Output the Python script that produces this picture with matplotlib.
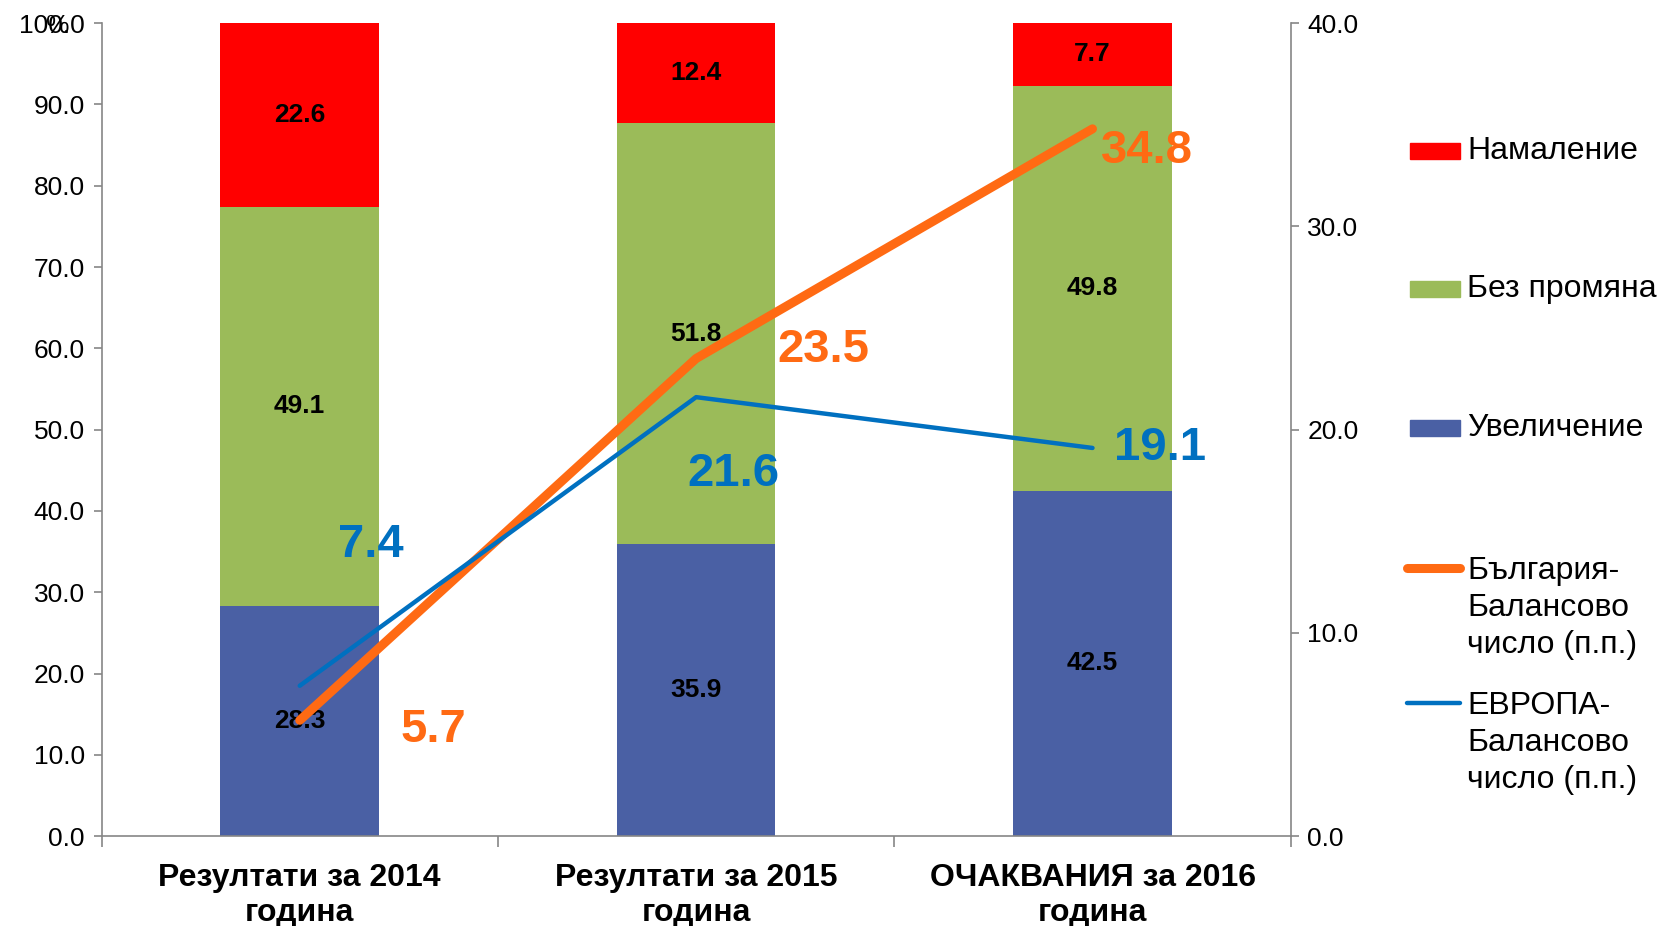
import matplotlib
matplotlib.use("Agg")
import matplotlib.pyplot as plt
import numpy as np
from matplotlib.patches import Rectangle
from matplotlib.lines import Line2D

categories = ["Резултати за 2014\nгодина", "Резултати за 2015\nгодина", "ОЧАКВАНИЯ за 2016\nгодина"]
increase = [28.3, 35.9, 42.5]
nochange = [49.1, 51.8, 49.8]
decrease = [22.6, 12.4, 7.7]
bulgaria = [5.7, 23.5, 34.8]
europe = [7.4, 21.6, 19.1]
left_ticks = [0, 10, 20, 30, 40, 50, 60, 70, 80, 90, 100]
right_ticks = [0, 10, 20, 30, 40]
legend_labels = ["Намаление", "Без промяна", "Увеличение",
                 "България-\nБалансово\nчисло (п.п.)", "ЕВРОПА-\nБалансово\nчисло (п.п.)"]

RED = "#FF0000"
GREEN = "#9BBB59"
BLUE = "#4A60A4"
ORANGE = "#FF6A13"
EBLUE = "#0070C0"
GRAY = "#868686"
FONT = ["Liberation Sans", "DejaVu Sans"]

fig = plt.figure(figsize=(16.59, 9.26), dpi=100)
ax = fig.add_axes([0.0612, 0.097, 0.7168, 0.878])
ax2 = ax.twinx()

x = np.arange(len(categories))
w = 0.4
b1 = ax.bar(x, increase, w, color=BLUE, zorder=2)
bot2 = np.array(increase)
b2 = ax.bar(x, nochange, w, bottom=bot2, color=GREEN, zorder=2)
bot3 = bot2 + np.array(nochange)
b3 = ax.bar(x, decrease, w, bottom=bot3, color=RED, zorder=2)

for vals, bots in [(increase, np.zeros(3)), (nochange, bot2), (decrease, bot3)]:
    for xi, v, b in zip(x, vals, bots):
        top = min(b + v, 100)
        ax.text(xi, (b + top) / 2, f"{v:.1f}", ha="center", va="center",
                fontsize=19, fontweight="bold", color="black", family=FONT, zorder=3)

ax.set_xlim(-0.5, 2.5)
ax.set_ylim(0, 100)
ax.set_yticks(left_ticks)
ax.set_yticklabels([f"{t:.1f}" for t in left_ticks], family=FONT, fontsize=19)
ax.set_xticks(x)
ax.set_xticklabels(categories, family=FONT, fontsize=23, fontweight="bold", linespacing=1.25)
ax.set_xticks([-0.5, 0.5, 1.5, 2.5], minor=True)
ax.tick_params(axis="x", which="major", length=0, pad=19)
ax.tick_params(axis="x", which="minor", length=8, color=GRAY, width=1.2)
ax.tick_params(axis="y", length=6, color=GRAY, width=1.2, pad=6)

ax2.plot(x, bulgaria, color=ORANGE, lw=6.5, solid_capstyle="round", zorder=4)
ax2.plot(x, europe, color=EBLUE, lw=3.2, solid_capstyle="round", zorder=4)
ax2.set_ylim(0, 40)
ax2.set_yticks(right_ticks)
ax2.set_yticklabels([f"{t:.1f}" for t in right_ticks], family=FONT, fontsize=19)
ax2.tick_params(axis="y", length=6, color=GRAY, width=1.2, pad=6)

bg_off = [(134, -10), (127, 9), (54, -22)]
eu_off = [(71, 141), (37, -77), (68, 0)]
for xi, v, o in zip(x, bulgaria, bg_off):
    ax2.annotate(f"{v:.1f}", (xi, v), xytext=o, textcoords="offset pixels", ha="center", va="center",
                 fontsize=34, fontweight="bold", color=ORANGE, family=FONT, zorder=5)
for xi, v, o in zip(x, europe, eu_off):
    ax2.annotate(f"{v:.1f}", (xi, v), xytext=o, textcoords="offset pixels", ha="center", va="center",
                 fontsize=34, fontweight="bold", color=EBLUE, family=FONT, zorder=5)

for a in (ax, ax2):
    a.spines["top"].set_visible(False)
    for s in ("left", "right", "bottom"):
        a.spines[s].set_color(GRAY)
        a.spines[s].set_linewidth(1.2)
ax.spines["right"].set_visible(False)
ax2.spines["left"].set_visible(False)
ax2.spines["bottom"].set_visible(False)

ax.text(-0.037, 0.997, "%", transform=ax.transAxes, ha="center", va="center",
        fontsize=19, family=FONT)

# legend (manual, Excel-like)
W, H = 1659, 926
def fx(px): return px / W
def fy(py): return 1 - py / H
hx0, hx1, tx = 1410, 1460, 1467
patch_entries = [(RED, 151), (GREEN, 289), (BLUE, 428)]
for (c, yc), lab in zip(patch_entries, legend_labels[:3]):
    fig.patches.append(Rectangle((fx(hx0), fy(yc + 8)), fx(hx1) - fx(hx0), 16 / H,
                                 transform=fig.transFigure, color=c, figure=fig))
    fig.text(fx(tx), fy(yc), lab, ha="left", va="center", fontsize=23, family=FONT)
line_entries = [(ORANGE, 568, 6.5), (EBLUE, 703, 3.2)]
for (c, yc, lw), lab in zip(line_entries, legend_labels[3:]):
    fig.add_artist(Line2D([fx(hx0 - 3), fx(hx1)], [fy(yc), fy(yc)], transform=fig.transFigure,
                          color=c, lw=lw, solid_capstyle="round"))
    fig.text(fx(tx), fy(yc - 12), lab, ha="left", va="top", fontsize=23, family=FONT, linespacing=1.3)

fig.savefig("out.png", dpi=100)
